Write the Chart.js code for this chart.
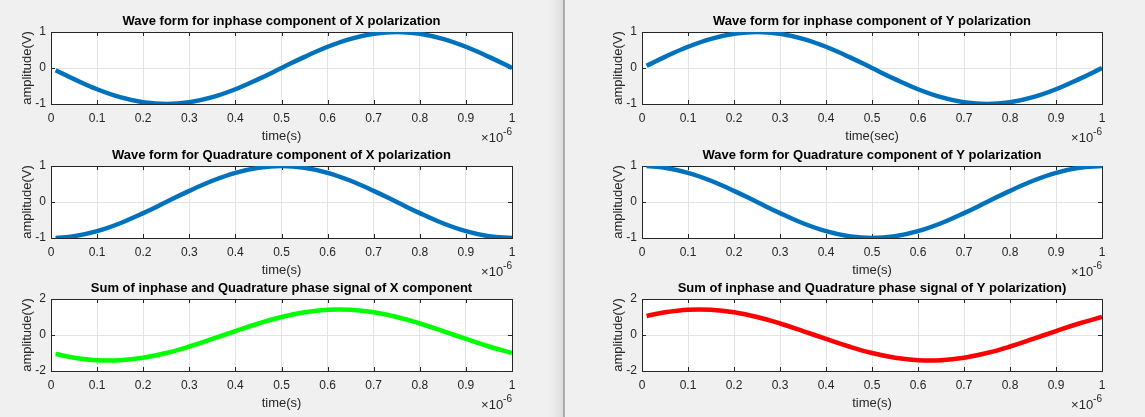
<!DOCTYPE html>
<html>
<head>
<meta charset="utf-8">
<script src="https://cdn.jsdelivr.net/npm/chart.js@4/dist/chart.umd.min.js"></script>
<style>
  body { margin: 0; background: #f0f0f0; width: 1145px; height: 417px; overflow: hidden; position: relative; }
  canvas.plot { position: absolute; }
  #divider { position: absolute; left: 549px; top: 0; width: 14px; height: 417px; background: linear-gradient(to right, #f0f0f0, #dcdcdc); }
  #divider::after { content: ''; position: absolute; left: 14px; top: 0; width: 2px; height: 100%; background: #ababab; }
</style>
</head>
<body>
<div id="divider"></div>
<canvas id="xInphasePlot" class="plot" width="524" height="142" style="left:0;top:4px"></canvas>
<canvas id="xQuadPlot" class="plot" width="524" height="142" style="left:0;top:138px"></canvas>
<canvas id="xSumPlot" class="plot" width="524" height="142" style="left:0;top:271px"></canvas>
<canvas id="yInphasePlot" class="plot" width="523" height="142" style="left:591px;top:4px"></canvas>
<canvas id="yQuadPlot" class="plot" width="523" height="142" style="left:591px;top:138px"></canvas>
<canvas id="ySumPlot" class="plot" width="523" height="142" style="left:591px;top:271px"></canvas>
<script>
// time samples in microseconds (axis shows the x10^-6 multiplier)
const timeUs = [0.01, 0.05, 0.10, 0.15, 0.20, 0.25, 0.30, 0.35, 0.40, 0.45, 0.50,
                0.55, 0.60, 0.65, 0.70, 0.75, 0.80, 0.85, 0.90, 0.95, 1.00];

// X polarization
const xInphase = [-0.06, -0.31, -0.59, -0.81, -0.95, -1.00, -0.95, -0.81, -0.59, -0.31, 0.00,
                  0.31, 0.59, 0.81, 0.95, 1.00, 0.95, 0.81, 0.59, 0.31, 0.00];
const xQuad = [-1.00, -0.95, -0.81, -0.59, -0.31, 0.00, 0.31, 0.59, 0.81, 0.95, 1.00,
               0.95, 0.81, 0.59, 0.31, 0.00, -0.31, -0.59, -0.81, -0.95, -1.00];
const xSum = [-1.06, -1.26, -1.40, -1.40, -1.26, -1.00, -0.64, -0.22, 0.22, 0.64, 1.00,
              1.26, 1.40, 1.40, 1.26, 1.00, 0.64, 0.22, -0.22, -0.64, -1.00];

// Y polarization
const yInphase = [0.06, 0.31, 0.59, 0.81, 0.95, 1.00, 0.95, 0.81, 0.59, 0.31, 0.00,
                  -0.31, -0.59, -0.81, -0.95, -1.00, -0.95, -0.81, -0.59, -0.31, 0.00];
const yQuad = [1.00, 0.95, 0.81, 0.59, 0.31, 0.00, -0.31, -0.59, -0.81, -0.95, -1.00,
               -0.95, -0.81, -0.59, -0.31, 0.00, 0.31, 0.59, 0.81, 0.95, 1.00];
const ySum = [1.06, 1.26, 1.40, 1.40, 1.26, 1.00, 0.64, 0.22, -0.22, -0.64, -1.00,
              -1.26, -1.40, -1.40, -1.26, -1.00, -0.64, -0.22, 0.22, 0.64, 1.00];

const FONT = '"Liberation Sans", Arial, Helvetica, sans-serif';
const AXIS_COLOR = '#262626';

// white axes, box with inward ticks on all sides, bold title, x10^-6 note
const matlabAxes = {
    id: 'matlabAxes',
    beforeDraw(chart) {
        const a = chart.chartArea;
        const ctx = chart.ctx;
        ctx.save();
        ctx.fillStyle = '#ffffff';
        ctx.fillRect(a.left, a.top, a.right - a.left, a.bottom - a.top);
        ctx.restore();
    },
    beforeDatasetsDraw(chart) {
        const a = chart.chartArea;
        const ctx = chart.ctx;
        const xs = chart.scales.x, ys = chart.scales.y;
        const len = 4;
        ctx.save();
        ctx.strokeStyle = AXIS_COLOR;
        ctx.lineWidth = 1;
        ctx.beginPath();
        xs.ticks.forEach(t => {
            const px = Math.round(xs.getPixelForValue(t.value)) + 0.5;
            ctx.moveTo(px, a.bottom); ctx.lineTo(px, a.bottom - len);
            ctx.moveTo(px, a.top); ctx.lineTo(px, a.top + len);
        });
        ys.ticks.forEach(t => {
            const py = Math.round(ys.getPixelForValue(t.value)) + 0.5;
            ctx.moveTo(a.left, py); ctx.lineTo(a.left + len, py);
            ctx.moveTo(a.right, py); ctx.lineTo(a.right - len, py);
        });
        ctx.stroke();
        ctx.strokeRect(Math.round(a.left) + 0.5, Math.round(a.top) + 0.5,
                       Math.round(a.right - a.left), Math.round(a.bottom - a.top));
        ctx.restore();
    },
    afterDraw(chart, args, opts) {
        const a = chart.chartArea;
        const ctx = chart.ctx;
        ctx.save();
        ctx.fillStyle = '#000000';
        ctx.font = 'bold 13px ' + FONT;
        ctx.textAlign = 'center';
        ctx.textBaseline = 'middle';
        ctx.fillText(opts.title, (a.left + a.right) / 2, a.top - 11);

        ctx.fillStyle = AXIS_COLOR;
        ctx.textAlign = 'right';
        ctx.font = '10px ' + FONT;
        const sup = '-6';
        const supW = ctx.measureText(sup).width;
        ctx.fillText(sup, a.right, a.bottom + 28);
        ctx.font = '13px ' + FONT;
        ctx.fillText('\u00d710', a.right - supW, a.bottom + 34);
        ctx.restore();
    }
};

function makePlot(id, title, xLabel, values, color, yMin, yMax, yStep) {
    return new Chart(id, {
        type: 'line',
        data: {
            datasets: [{
                data: timeUs.map((t, i) => ({ x: t, y: values[i] })),
                borderColor: color,
                borderWidth: 4.5,
                pointRadius: 0,
                tension: 0.4,
                fill: false
            }]
        },
        options: {
            responsive: false,
            animation: false,
            events: [],
            layout: {
                padding: { top: 28, right: 12, bottom: 0, left: 0 }
            },
            scales: {
                x: {
                    type: 'linear',
                    min: 0,
                    max: 1,
                    ticks: {
                        stepSize: 0.1,
                        color: AXIS_COLOR,
                        padding: 7,
                        maxRotation: 0,
                        font: { size: 12, family: FONT },
                        callback: v => String(+v.toFixed(1))
                    },
                    grid: {
                        color: '#e3e3e3',
                        drawTicks: false
                    },
                    border: { display: false },
                    title: {
                        display: true,
                        text: xLabel,
                        color: AXIS_COLOR,
                        font: { size: 13, family: FONT },
                        padding: { top: 0, bottom: 2 }
                    },
                    afterFit(scale) { scale.height = 42; }
                },
                y: {
                    min: yMin,
                    max: yMax,
                    ticks: {
                        stepSize: yStep,
                        color: AXIS_COLOR,
                        padding: 5,
                        font: { size: 12, family: FONT }
                    },
                    grid: {
                        color: '#e3e3e3',
                        drawTicks: false
                    },
                    border: { display: false },
                    title: {
                        display: true,
                        text: 'amplitude(V)',
                        color: AXIS_COLOR,
                        font: { size: 13, family: FONT },
                        padding: { top: 20, bottom: 0 }
                    },
                    afterFit(scale) { scale.width = 51; }
                }
            },
            plugins: {
                legend: { display: false },
                tooltip: { enabled: false },
                matlabAxes: { title: title }
            }
        },
        plugins: [matlabAxes]
    });
}

makePlot('xInphasePlot', 'Wave form for inphase component of X polarization', 'time(s)', xInphase, '#0072BD', -1, 1, 1);
makePlot('xQuadPlot', 'Wave form for Quadrature component of X polarization', 'time(s)', xQuad, '#0072BD', -1, 1, 1);
makePlot('xSumPlot', 'Sum of inphase and Quadrature phase signal of X component', 'time(s)', xSum, '#00FF00', -2, 2, 2);
makePlot('yInphasePlot', 'Wave form for inphase component of Y polarization', 'time(sec)', yInphase, '#0072BD', -1, 1, 1);
makePlot('yQuadPlot', 'Wave form for Quadrature component of Y polarization', 'time(s)', yQuad, '#0072BD', -1, 1, 1);
makePlot('ySumPlot', 'Sum of inphase and Quadrature phase signal of Y polarization)', 'time(s)', ySum, '#FF0000', -2, 2, 2);
</script>
</body>
</html>
